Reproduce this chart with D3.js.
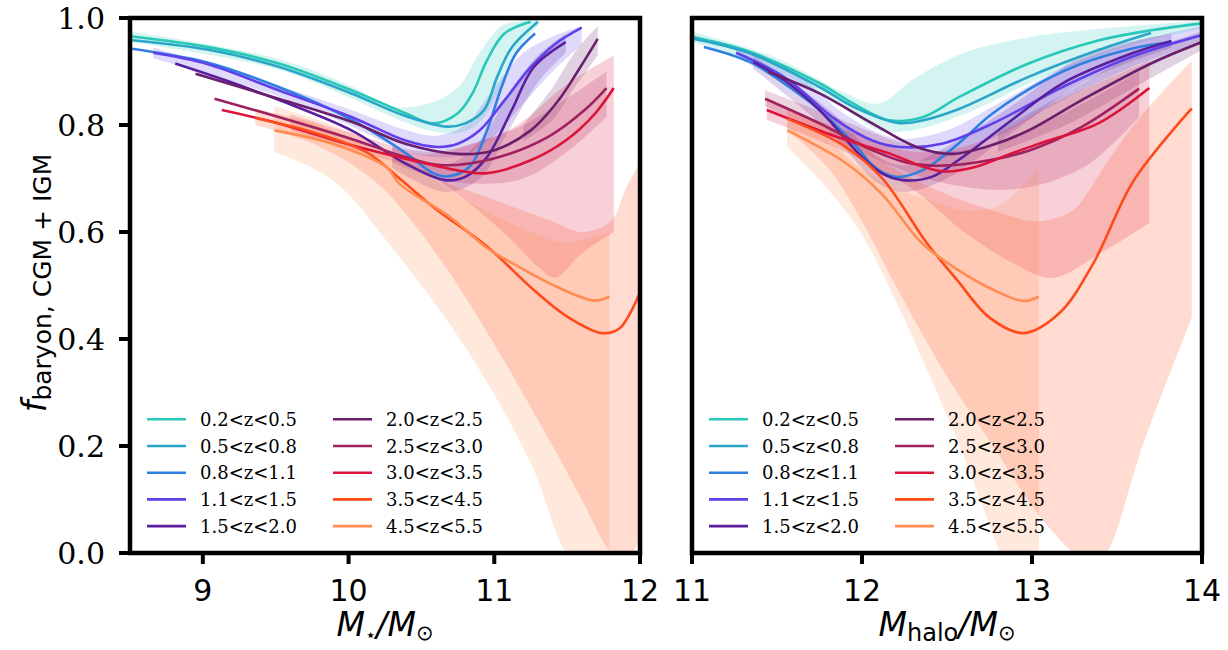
<!DOCTYPE html>
<html>
<head>
<meta charset="utf-8">
<script src="https://cdn.jsdelivr.net/npm/d3@7.9.0/dist/d3.min.js"></script>
<style>
  body { margin: 0; background: #fff; }
  svg { display: block; }
</style>
</head>
<body>
<svg id="chart" width="1228" height="650"></svg>
<script>
// redshift bins and their colours
const labels = ['0.2<z<0.5', '0.5<z<0.8', '0.8<z<1.1', '1.1<z<1.5', '1.5<z<2.0',
                '2.0<z<2.5', '2.5<z<3.0', '3.0<z<3.5', '3.5<z<4.5', '4.5<z<5.5'];
const colors = ['#28c8b8', '#2aa6c8', '#2f7fe0', '#6040ea', '#5a1f9e',
                '#6a1f6c', '#a0215f', '#dc143c', '#ff4a1a', '#ff8c50'];

// median curves vs stellar mass: [log M*, f]
const starLines = [
  [[8.5,0.966],[9.03,0.946],[9.52,0.915],[10.02,0.865],[10.39,0.822],[10.58,0.803],[10.75,0.822],[10.85,0.859],[10.95,0.921],[11.07,0.971],[11.25,0.993]],
  [[8.5,0.959],[9.03,0.941],[9.52,0.909],[10.02,0.859],[10.39,0.817],[10.68,0.797],[10.8,0.803],[10.93,0.828],[11.02,0.89],[11.12,0.945],[11.3,0.993]],
  [[8.5,0.943],[9.03,0.917],[9.52,0.871],[10.02,0.81],[10.39,0.748],[10.58,0.71],[10.68,0.704],[10.83,0.722],[10.95,0.79],[11.05,0.871],[11.15,0.934],[11.28,0.971]],
  [[8.66,0.935],[9.03,0.914],[9.52,0.865],[10.02,0.815],[10.39,0.771],[10.61,0.759],[10.75,0.765],[10.9,0.79],[11.07,0.846],[11.25,0.908],[11.42,0.952],[11.6,0.982]],
  [[8.81,0.915],[9.15,0.884],[9.52,0.847],[10.02,0.79],[10.39,0.728],[10.66,0.697],[10.8,0.703],[10.95,0.74],[11.12,0.828],[11.27,0.908],[11.49,0.955]],
  [[8.95,0.896],[9.52,0.849],[10.02,0.806],[10.39,0.765],[10.75,0.746],[10.99,0.752],[11.25,0.79],[11.44,0.846],[11.59,0.908],[11.71,0.961]],
  [[9.08,0.849],[9.52,0.815],[10.02,0.774],[10.39,0.74],[10.63,0.725],[10.99,0.737],[11.37,0.778],[11.62,0.828],[11.77,0.869]],
  [[9.13,0.828],[9.52,0.803],[10.02,0.762],[10.39,0.737],[10.75,0.715],[10.95,0.71],[11.25,0.734],[11.49,0.771],[11.69,0.821],[11.82,0.869]],
  [[9.36,0.813],[9.77,0.785],[10.13,0.748],[10.35,0.7],[10.58,0.647],[10.95,0.573],[11.27,0.492],[11.5,0.442],[11.74,0.411],[11.86,0.42],[12.0,0.487]],
  [[9.49,0.79],[9.89,0.765],[10.26,0.721],[10.35,0.69],[10.7,0.627],[10.95,0.57],[11.13,0.541],[11.38,0.504],[11.68,0.472],[11.79,0.479]]
];

// median curves vs halo mass: [log Mhalo, f]
const haloLines = [
  [[11.0,0.965],[11.34,0.937],[11.75,0.878],[11.95,0.84],[12.16,0.809],[12.36,0.815],[12.57,0.852],[12.98,0.915],[13.39,0.958],[13.7,0.977],[14.0,0.99]],
  [[11.0,0.962],[11.34,0.934],[11.75,0.871],[11.95,0.834],[12.21,0.804],[12.36,0.809],[12.57,0.83],[12.98,0.89],[13.39,0.94],[13.7,0.972]],
  [[11.07,0.946],[11.34,0.918],[11.54,0.878],[11.75,0.828],[11.95,0.766],[12.08,0.72],[12.2,0.703],[12.36,0.716],[12.57,0.766],[12.77,0.822],[13.18,0.9],[13.59,0.943],[13.82,0.955]],
  [[11.26,0.935],[11.54,0.89],[11.85,0.809],[12.06,0.771],[12.22,0.759],[12.47,0.765],[12.77,0.803],[13.18,0.871],[13.59,0.928],[14.0,0.968]],
  [[11.36,0.918],[11.54,0.884],[11.75,0.828],[12.0,0.74],[12.12,0.709],[12.24,0.697],[12.41,0.703],[12.57,0.735],[12.88,0.809],[13.18,0.878],[13.59,0.934],[13.82,0.957]],
  [[11.45,0.899],[11.75,0.859],[12.06,0.803],[12.32,0.759],[12.53,0.746],[12.77,0.763],[12.98,0.79],[13.29,0.846],[13.7,0.915],[14.0,0.955]],
  [[11.43,0.849],[11.75,0.803],[12.06,0.753],[12.26,0.73],[12.41,0.724],[12.67,0.73],[12.98,0.752],[13.29,0.796],[13.63,0.868]],
  [[11.44,0.828],[11.85,0.778],[12.16,0.747],[12.36,0.722],[12.49,0.713],[12.67,0.722],[12.88,0.747],[13.08,0.769],[13.39,0.803],[13.69,0.869]],
  [[11.56,0.812],[11.9,0.76],[12.12,0.7],[12.38,0.58],[12.56,0.51],[12.75,0.44],[12.95,0.411],[13.16,0.448],[13.36,0.541],[13.6,0.697],[13.94,0.831]],
  [[11.56,0.79],[11.9,0.73],[12.12,0.67],[12.35,0.58],[12.56,0.53],[12.77,0.492],[12.95,0.471],[13.04,0.479]]
];

// scatter bands: [x, low, high]
const starBands = [
  [[8.5,0.955,0.975],[9.5,0.905,0.925],[10.0,0.852,0.875],[10.3,0.815,0.835],[10.55,0.79,0.84],[10.75,0.785,0.87],[10.9,0.805,0.935],[11.05,0.875,0.985],[11.2,0.955,0.995],[11.3,0.985,0.998]],
  [],
  [],
  [[8.66,0.925,0.945],[9.5,0.855,0.875],[10.0,0.8,0.83],[10.4,0.75,0.79],[10.6,0.74,0.78],[10.8,0.745,0.8],[11.0,0.78,0.87],[11.2,0.84,0.935],[11.4,0.9,0.965],[11.6,0.95,0.985]],
  [[10.3,0.72,0.76],[10.66,0.675,0.725],[10.9,0.7,0.77],[11.1,0.79,0.86],[11.3,0.88,0.93],[11.49,0.935,0.97]],
  [[11.2,0.77,0.8],[11.4,0.81,0.87],[11.55,0.87,0.935],[11.71,0.93,0.985]],
  [[10.3,0.73,0.76],[10.6,0.7,0.75],[10.9,0.69,0.77],[11.2,0.7,0.8],[11.5,0.75,0.85],[11.77,0.815,0.9]],
  [[9.6,0.79,0.82],[10.2,0.74,0.77],[10.5,0.715,0.745],[10.8,0.66,0.76],[11.1,0.59,0.79],[11.3,0.535,0.83],[11.42,0.515,0.86],[11.6,0.56,0.895],[11.82,0.6,0.93]],
  [[9.36,0.8,0.83],[9.8,0.76,0.8],[10.2,0.69,0.75],[10.6,0.56,0.7],[11.0,0.39,0.66],[11.4,0.2,0.62],[11.6,0.1,0.6],[11.8,0.0,0.62],[11.9,-0.02,0.68],[12.0,0.03,0.73]],
  [[9.49,0.75,0.835],[9.89,0.697,0.8],[10.3,0.57,0.75],[10.8,0.385,0.66],[11.25,0.168,0.6],[11.49,0.0,0.58],[11.79,-0.1,0.6]]
];

const haloBands = [
  [[11.0,0.955,0.975],[11.5,0.9,0.925],[11.9,0.83,0.86],[12.1,0.79,0.84],[12.3,0.79,0.885],[12.6,0.82,0.935],[13.0,0.88,0.965],[13.4,0.93,0.98],[13.7,0.96,0.988],[14.0,0.98,0.995]],
  [],
  [],
  [[11.26,0.925,0.945],[11.6,0.87,0.9],[11.9,0.78,0.82],[12.2,0.735,0.775],[12.5,0.74,0.79],[12.8,0.78,0.84],[13.2,0.85,0.91],[13.6,0.91,0.955],[14.0,0.955,0.985]],
  [[11.36,0.905,0.93],[11.8,0.79,0.83],[12.1,0.69,0.74],[12.25,0.675,0.725],[12.5,0.7,0.76],[12.9,0.79,0.84],[13.3,0.88,0.93],[13.82,0.945,0.97]],
  [[12.8,0.75,0.79],[13.2,0.8,0.86],[13.6,0.87,0.93],[14.0,0.94,0.975]],
  [[11.43,0.835,0.865],[11.8,0.78,0.82],[12.2,0.72,0.77],[12.5,0.69,0.75],[12.9,0.68,0.78],[13.3,0.72,0.84],[13.63,0.815,0.9]],
  [[11.44,0.81,0.845],[11.9,0.75,0.79],[12.3,0.68,0.75],[12.6,0.6,0.76],[12.9,0.54,0.8],[13.12,0.514,0.84],[13.4,0.56,0.88],[13.69,0.617,0.92]],
  [[11.56,0.79,0.83],[11.8,0.72,0.8],[12.0,0.62,0.76],[12.18,0.51,0.72],[12.5,0.33,0.67],[12.77,0.2,0.64],[13.03,0.075,0.62],[13.24,0.0,0.64],[13.34,-0.03,0.68],[13.44,0.0,0.73],[13.65,0.2,0.82],[13.94,0.44,0.92]],
  [[11.56,0.76,0.815],[11.8,0.68,0.77],[11.99,0.6,0.72],[12.2,0.47,0.68],[12.4,0.33,0.66],[12.6,0.18,0.64],[12.81,0.0,0.65],[13.04,-0.2,0.72]]
];

const starTicks = [9, 10, 11, 12];
const haloTicks = [11, 12, 13, 14];
const yTicks = [0.0, 0.2, 0.4, 0.6, 0.8, 1.0];

const svg = d3.select('#chart');
const yTop = 18, yBottom = 553;
const yScale = d3.scaleLinear().domain([0, 1]).range([yBottom, yTop]);

const panels = [
  { id: 'star', lines: starLines, bands: starBands, domain: [8.5, 12], range: [130, 640], ticks: starTicks, showY: true },
  { id: 'halo', lines: haloLines, bands: haloBands, domain: [11, 14], range: [692, 1202], ticks: haloTicks, showY: false }
];

panels.forEach((p) => {
  const x = d3.scaleLinear().domain(p.domain).range(p.range);
  const g = svg.append('g');

  svg.append('clipPath').attr('id', 'clip-' + p.id)
    .append('rect')
    .attr('x', p.range[0]).attr('y', yTop)
    .attr('width', p.range[1] - p.range[0]).attr('height', yBottom - yTop);

  const plot = g.append('g').attr('clip-path', `url(#clip-${p.id})`);

  const area = d3.area()
    .x((d) => x(d[0]))
    .y0((d) => yScale(d[1]))
    .y1((d) => yScale(d[2]))
    .curve(d3.curveCatmullRom.alpha(0.5));
  const line = d3.line()
    .x((d) => x(d[0]))
    .y((d) => yScale(d[1]))
    .curve(d3.curveCatmullRom.alpha(0.5));

  // bands first, then lines on top
  plot.selectAll('path.band')
    .data(p.bands.map((b, i) => ({ b, i })).filter((d) => d.b.length))
    .join('path')
    .attr('class', 'band')
    .attr('d', (d) => area(d.b))
    .attr('fill', (d) => colors[d.i])
    .attr('fill-opacity', 0.2);

  plot.selectAll('path.line')
    .data(p.lines)
    .join('path')
    .attr('class', 'line')
    .attr('d', (d) => line(d))
    .attr('fill', 'none')
    .attr('stroke', (d, i) => colors[i])
    .attr('stroke-width', 2.6);

  // x axis ticks
  const xAxis = g.append('g');
  p.ticks.forEach((t) => {
    xAxis.append('line')
      .attr('x1', x(t)).attr('x2', x(t))
      .attr('y1', yBottom).attr('y2', yBottom + 11)
      .attr('stroke', '#000').attr('stroke-width', 4);
    xAxis.append('text')
      .attr('x', x(t)).attr('y', yBottom + 48)
      .attr('text-anchor', 'middle')
      .attr('font-family', 'DejaVu Sans')
      .attr('font-size', 30)
      .text(t);
  });

  if (p.showY) {
    const yAxis = g.append('g');
    yTicks.forEach((t) => {
      yAxis.append('line')
        .attr('x1', p.range[0] - 11).attr('x2', p.range[0])
        .attr('y1', yScale(t)).attr('y2', yScale(t))
        .attr('stroke', '#000').attr('stroke-width', 4);
      yAxis.append('text')
        .attr('x', p.range[0] - 25).attr('y', yScale(t) + 11)
        .attr('text-anchor', 'end')
        .attr('font-family', 'DejaVu Serif')
        .attr('font-size', 30)
        .text(t.toFixed(1));
    });
  }

  // frame
  g.append('rect')
    .attr('x', p.range[0]).attr('y', yTop)
    .attr('width', p.range[1] - p.range[0]).attr('height', yBottom - yTop)
    .attr('fill', 'none').attr('stroke', '#000').attr('stroke-width', 4.5);

  // legend, two columns of five
  const leg = g.append('g').attr('font-family', 'DejaVu Serif').attr('font-size', 18);
  labels.forEach((lab, i) => {
    const col = Math.floor(i / 5), row = i % 5;
    const lx = p.range[0] + 17 + col * 186;
    const ly = 419.3 + row * 26.7;
    leg.append('line')
      .attr('x1', lx).attr('x2', lx + 39)
      .attr('y1', ly).attr('y2', ly)
      .attr('stroke', colors[i]).attr('stroke-width', 2.6);
    leg.append('text')
      .attr('x', lx + 53).attr('y', ly + 6.5)
      .text(lab);
  });

  // x label
  const midX = (p.range[0] + p.range[1]) / 2;
  const xl = g.append('text')
    .attr('x', midX).attr('y', 636)
    .attr('text-anchor', 'middle')
    .attr('font-family', 'DejaVu Sans')
    .attr('font-size', 33);
  xl.append('tspan').attr('font-style', 'italic').text('M');
  if (p.id === 'star') {
    xl.append('tspan').attr('font-size', 18).attr('dy', 5).text('\u22C6');
  } else {
    xl.append('tspan').attr('font-size', 24).attr('dy', 5).text('halo');
  }
  xl.append('tspan').attr('font-style', 'italic').attr('dy', -5).text('/M');
  xl.append('tspan').attr('font-size', 21).attr('dy', 4).text('\u2299');
});

// y label
const yl = svg.append('text')
  .attr('transform', 'translate(46,283) rotate(-90)')
  .attr('text-anchor', 'middle')
  .attr('font-family', 'DejaVu Sans');
yl.append('tspan').attr('font-size', 33).attr('font-style', 'italic').text('f');
yl.append('tspan').attr('font-size', 25).attr('dy', 5).text('baryon, CGM + IGM');
</script>
</body>
</html>
